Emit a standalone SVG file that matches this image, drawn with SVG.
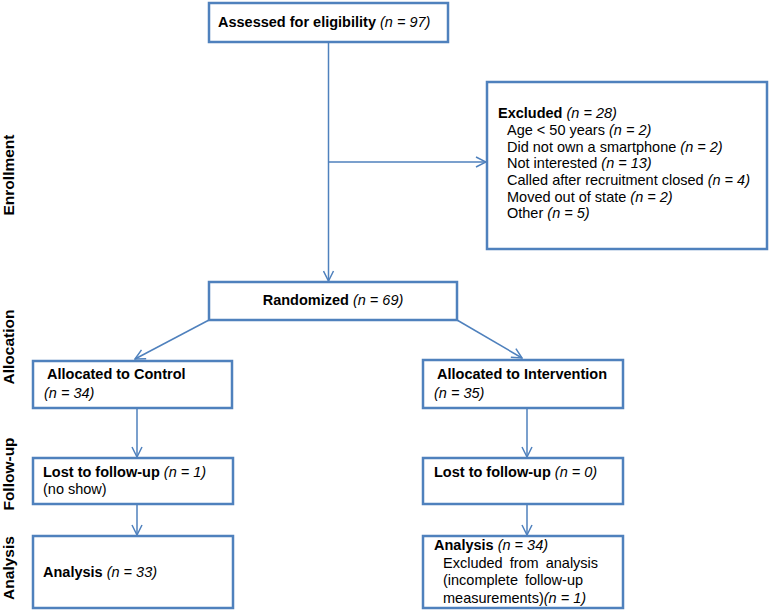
<svg xmlns="http://www.w3.org/2000/svg" width="770" height="611" viewBox="0 0 770 611">
<style>
.box{fill:#fff;stroke:#4f81bd;stroke-width:2.5}
.ln{fill:none;stroke:#4f81bd;stroke-width:1.5}
text{font-family:"Liberation Sans",Arial,sans-serif;font-size:14.5px;fill:#000}
.b{font-weight:bold}
.i{font-style:italic;font-weight:normal}
.side{font-weight:bold;font-size:15.5px}
</style>
<defs>
<marker id="arr" viewBox="0 0 12 12" refX="11" refY="6" markerWidth="12" markerHeight="12" markerUnits="userSpaceOnUse" orient="auto">
<path d="M1,1 L11,6 L1,11" fill="none" stroke="#4f81bd" stroke-width="1.5"/>
</marker>
</defs>
<g id="labels">
<text class="side" transform="translate(14,175) rotate(-90)" text-anchor="middle">Enrollment</text>
<text class="side" transform="translate(14,347) rotate(-90)" text-anchor="middle">Allocation</text>
<text class="side" transform="translate(14,474) rotate(-90)" text-anchor="middle">Follow-up</text>
<text class="side" transform="translate(14,568) rotate(-90)" text-anchor="middle">Analysis</text>
</g>
<g id="connectors">
<line class="ln" x1="328.5" y1="42" x2="328.5" y2="281" marker-end="url(#arr)"/>
<line class="ln" x1="328.5" y1="162" x2="486" y2="162" marker-end="url(#arr)"/>
<line class="ln" x1="209" y1="320" x2="135" y2="359" marker-end="url(#arr)"/>
<line class="ln" x1="457" y1="320" x2="522" y2="358" marker-end="url(#arr)"/>
<line class="ln" x1="137" y1="408" x2="137" y2="457" marker-end="url(#arr)"/>
<line class="ln" x1="137" y1="504" x2="137" y2="535" marker-end="url(#arr)"/>
<line class="ln" x1="527" y1="408" x2="527" y2="457" marker-end="url(#arr)"/>
<line class="ln" x1="527" y1="504" x2="527" y2="535" marker-end="url(#arr)"/>
</g>
<g id="assessed">
<rect class="box" x="209" y="3" width="239" height="39"/>
<text x="218" y="27" class="b">Assessed for eligibility <tspan class="i">(n = 97)</tspan></text>
</g>
<g id="excluded">
<rect class="box" x="487" y="82" width="280" height="167"/>
<text x="498" y="118" class="b">Excluded <tspan class="i">(n = 28)</tspan></text>
<text x="507" y="135">Age &lt; 50 years <tspan class="i">(n = 2)</tspan></text>
<text x="507" y="152">Did not own a smartphone  <tspan class="i">(n = 2)</tspan></text>
<text x="507" y="168">Not interested <tspan class="i">(n = 13)</tspan></text>
<text x="507" y="185">Called after recruitment closed <tspan class="i">(n = 4)</tspan></text>
<text x="507" y="202">Moved out of state <tspan class="i">(n = 2)</tspan></text>
<text x="507" y="218">Other <tspan class="i">(n = 5)</tspan></text>
</g>
<g id="randomized">
<rect class="box" x="209" y="282" width="248" height="38"/>
<text x="333" y="305" class="b" text-anchor="middle">Randomized <tspan class="i">(n = 69)</tspan></text>
</g>
<g id="alloc-control">
<rect class="box" x="33" y="361" width="199" height="47"/>
<text x="47" y="379" class="b">Allocated to Control</text>
<text x="44" y="398" class="i">(n = 34)</text>
</g>
<g id="alloc-intervention">
<rect class="box" x="423" y="360" width="200" height="48"/>
<text x="437" y="379" class="b">Allocated to Intervention</text>
<text x="434" y="398" class="i">(n = 35)</text>
</g>
<g id="lost-control">
<rect class="box" x="33" y="458" width="200" height="46"/>
<text x="43" y="477" class="b">Lost to follow-up <tspan class="i">(n = 1)</tspan></text>
<text x="43" y="494">(no show)</text>
</g>
<g id="lost-intervention">
<rect class="box" x="423" y="458" width="200" height="46"/>
<text x="434" y="477" class="b">Lost to follow-up <tspan class="i">(n = 0)</tspan></text>
</g>
<g id="analysis-control">
<rect class="box" x="33" y="536" width="200" height="72"/>
<text x="43" y="577" class="b">Analysis <tspan class="i">(n = 33)</tspan></text>
</g>
<g id="analysis-intervention">
<rect class="box" x="423" y="536" width="200" height="72"/>
<text x="434" y="550" class="b">Analysis <tspan class="i">(n = 34)</tspan></text>
<text x="443" y="568" word-spacing="3">Excluded from analysis</text>
<text x="443" y="585" word-spacing="3">(incomplete follow-up</text>
<text x="443" y="603">measurements)<tspan class="i">(n  = 1)</tspan></text>
</g>
</svg>
